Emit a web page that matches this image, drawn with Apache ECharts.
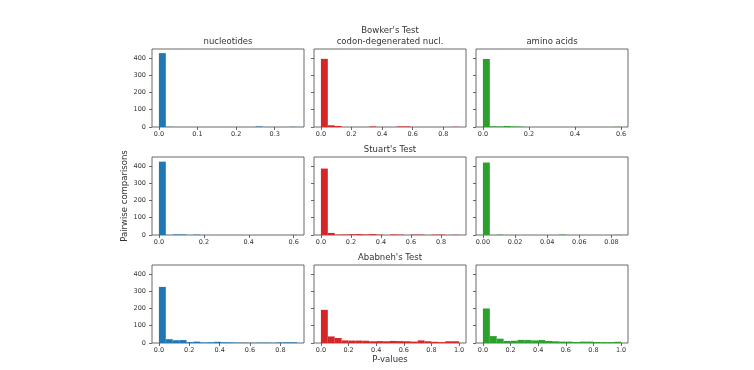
<!DOCTYPE html>
<html>
<head>
<meta charset="utf-8">
<script src="https://cdn.jsdelivr.net/npm/echarts@6/dist/echarts.min.js"></script>
<style>
  html, body { margin: 0; padding: 0; background: #fff; }
  #chart { width: 754px; height: 370px; }
</style>
</head>
<body>
<div id="chart"></div>
<script>
// histogram counts (20 bins each)
var bowkerNuc   = [428, 1, 0, 0, 0, 0, 0, 0, 0, 0, 0, 0, 0, 0, 3, 0, 0, 0, 0, 1];
var bowkerCodon = [395, 10, 6, 0, 0, 0, 0, 3, 0, 0, 0, 3, 3, 0, 0, 0, 0, 0, 0, 1];
var bowkerAmino = [394, 4, 3, 6, 3, 2, 0, 0, 0, 0, 0, 0, 0, 0, 0, 0, 0, 0, 0, 1];
var stuartNuc   = [425, 0, 3, 3, 0, 2, 0, 0, 0, 0, 0, 0, 0, 0, 0, 0, 0, 0, 0, 1];
var stuartCodon = [385, 12, 2, 3, 4, 5, 3, 5, 2, 0, 3, 2, 0, 2, 2, 0, 2, 2, 0, 1];
var stuartAmino = [420, 0, 2, 0, 0, 0, 0, 0, 0, 0, 0, 2, 0, 0, 0, 0, 0, 0, 0, 1];
var ababnehNuc   = [325, 22, 16, 17, 5, 8, 3, 4, 7, 4, 3, 2, 2, 1, 2, 2, 1, 3, 4, 4];
var ababnehCodon = [192, 38, 29, 15, 14, 14, 13, 10, 11, 10, 12, 11, 10, 8, 15, 10, 7, 5, 10, 10];
var ababnehAmino = [200, 40, 25, 12, 13, 18, 17, 15, 17, 12, 10, 8, 8, 6, 8, 8, 6, 5, 5, 7];

// largest p-value in each panel (upper edge of the last bin)
var panelMax = [0.358, 0.903, 0.6, 0.615, 0.92, 0.086, 0.91, 1.0, 1.0];

// tick labels
var xTicks = [
  [0, 0.1, 0.2, 0.3],
  [0, 0.2, 0.4, 0.6, 0.8],
  [0, 0.2, 0.4, 0.6],
  [0, 0.2, 0.4, 0.6],
  [0, 0.2, 0.4, 0.6, 0.8],
  [0, 0.02, 0.04, 0.06, 0.08],
  [0, 0.2, 0.4, 0.6, 0.8],
  [0, 0.2, 0.4, 0.6, 0.8, 1.0],
  [0, 0.2, 0.4, 0.6, 0.8, 1.0]
];
var xDecimals = [1, 1, 1, 1, 1, 2, 1, 1, 1];
var yTicks = [0, 100, 200, 300, 400];

var counts = [bowkerNuc, bowkerCodon, bowkerAmino, stuartNuc, stuartCodon, stuartAmino,
              ababnehNuc, ababnehCodon, ababnehAmino];
var colors = ['#1f77b4', '#d62728', '#2ca02c'];

var colLeft = [152, 314, 476];
var rowTop = [49, 157, 265];
var font = 'DejaVu Sans';

var grids = [], xAxes = [], yAxes = [], series = [];

counts.forEach(function (c, i) {
  var row = Math.floor(i / 3), col = i % 3;
  var dmax = panelMax[i];
  var step = dmax / c.length;
  var data = c.map(function (v, k) { return [k * step, (k + 1) * step, v]; });
  var dec = xDecimals[i];

  grids.push({
    left: colLeft[col], top: rowTop[row], width: 152, height: 78,
    show: true, borderColor: '#444', borderWidth: 0.8, backgroundColor: '#fff'
  });
  xAxes.push({
    type: 'value', gridIndex: i, position: 'bottom',
    min: -0.05 * dmax, max: 1.05 * dmax,
    splitLine: { show: false },
    axisLine: { show: false, onZero: false },
    axisTick: { show: true, length: 3, customValues: xTicks[i], lineStyle: { color: '#444', width: 0.8 } },
    axisLabel: {
      customValues: xTicks[i], margin: 4, fontFamily: font, fontSize: 6.5, color: '#333',
      formatter: function (v) { return Number(v).toFixed(dec); }
    }
  });
  yAxes.push({
    type: 'value', gridIndex: i, position: 'left', min: 0, max: 452,
    splitLine: { show: false },
    axisLine: { show: false, onZero: false },
    axisTick: { show: true, length: 3, customValues: yTicks, lineStyle: { color: '#444', width: 0.8 } },
    axisLabel: {
      show: col === 0, customValues: yTicks, margin: 6,
      fontFamily: font, fontSize: 6.5, color: '#333'
    }
  });
  series.push({
    type: 'custom', xAxisIndex: i, yAxisIndex: i,
    encode: { x: [0, 1], y: 2 },
    data: data,
    renderItem: function (params, api) {
      var p0 = api.coord([api.value(0), api.value(2)]);
      var p1 = api.coord([api.value(1), 0]);
      return {
        type: 'rect',
        shape: { x: p0[0], y: p0[1], width: p1[0] - p0[0], height: p1[1] - p0[1] },
        style: { fill: colors[col] }
      };
    }
  });
});

function label(text, x, y, rot) {
  return {
    type: 'text', x: x, y: y, rotation: rot || 0,
    style: { text: text, font: '8.5px "DejaVu Sans"', fill: '#333', align: 'center', verticalAlign: 'middle' }
  };
}

var chart = echarts.init(document.getElementById('chart'));
chart.setOption({
  animation: false,
  backgroundColor: '#fff',
  grid: grids,
  xAxis: xAxes,
  yAxis: yAxes,
  series: series,
  graphic: [
    label("Bowker's Test", 390, 31),
    label('codon-degenerated nucl.', 390, 42),
    label('nucleotides', 228, 42),
    label('amino acids', 552, 42),
    label("Stuart's Test", 390, 150),
    label("Ababneh's Test", 390, 258),
    label('P-values', 390, 360),
    label('Pairwise comparisons', 125, 196, Math.PI / 2)
  ]
});
</script>
</body>
</html>
